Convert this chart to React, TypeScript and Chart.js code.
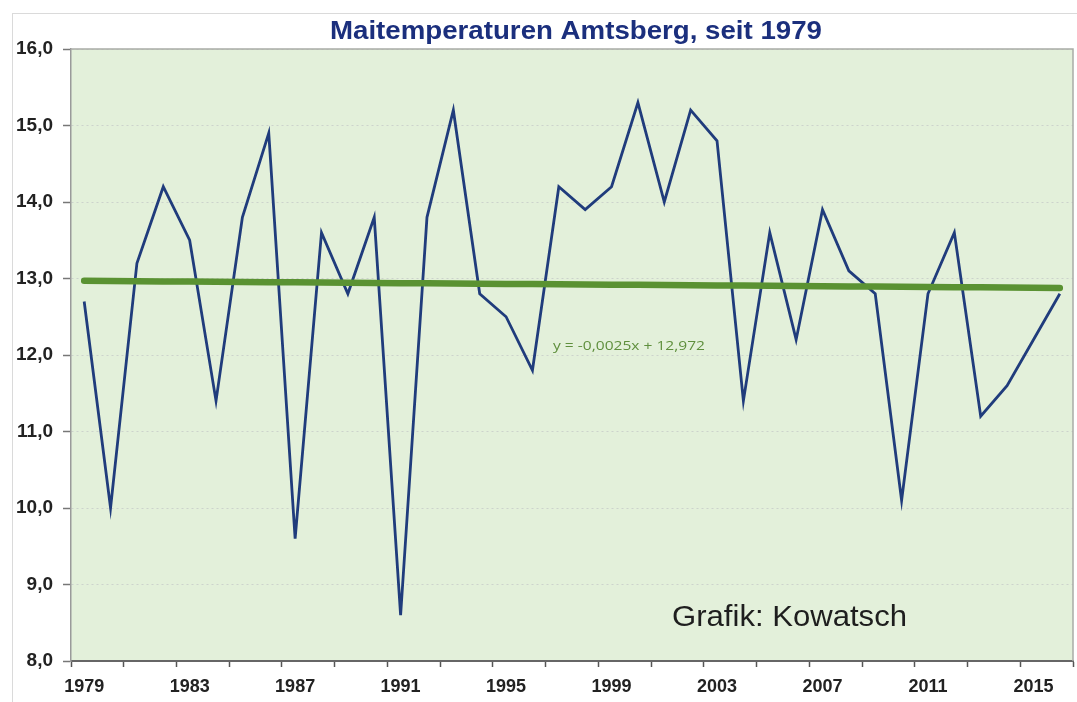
import React, { useEffect, useRef } from "react";
import { Chart, registerables } from "chart.js";

Chart.register(...registerables);

const years: string[] = [
  "1979", "1980", "1981", "1982", "1983", "1984", "1985", "1986", "1987", "1988",
  "1989", "1990", "1991", "1992", "1993", "1994", "1995", "1996", "1997", "1998",
  "1999", "2000", "2001", "2002", "2003", "2004", "2005", "2006", "2007", "2008",
  "2009", "2010", "2011", "2012", "2013", "2014", "2015", "2016",
];

const mayTemps: number[] = [
  12.7, 10.0, 13.2, 14.2, 13.5, 11.4, 13.8, 14.9, 9.6, 13.6,
  12.8, 13.8, 8.6, 13.8, 15.2, 12.8, 12.5, 11.8, 14.2, 13.9,
  14.2, 15.3, 14.0, 15.2, 14.8, 11.4, 13.6, 12.2, 13.9, 13.1,
  12.8, 10.1, 12.8, 13.6, 11.2, 11.6, 12.2, 12.8,
];

// Linear trend as given on the chart: y = -0,0025x + 12,972
const trendSlope = -0.0025;
const trendIntercept = 12.972;

const yMin = 8;
const yMax = 16;
const yStep = 1;

const titleText = "Maitemperaturen Amtsberg, seit 1979";
const equationText = "y = -0,0025x + 12,972";
const creditText = "Grafik: Kowatsch";

const FONT = '"Liberation Sans", Arial, sans-serif';

const decorPlugin = {
  id: "decor",
  beforeDraw(chart: any) {
    const { ctx, chartArea: a } = chart;
    ctx.save();
    ctx.strokeStyle = "#dadada";
    ctx.lineWidth = 1;
    ctx.strokeRect(12.5, 13.5, 1100, 800);
    ctx.fillStyle = "#e3f0da";
    ctx.fillRect(a.left, a.top, a.right - a.left, a.bottom - a.top);
    ctx.restore();
  },
  beforeDatasetsDraw(chart: any) {
    const { ctx, chartArea: a } = chart;
    ctx.save();
    ctx.strokeStyle = "#a9aca6";
    ctx.lineWidth = 1.5;
    ctx.beginPath();
    ctx.moveTo(a.left, a.top);
    ctx.lineTo(a.right, a.top);
    ctx.lineTo(a.right, a.bottom);
    ctx.stroke();
    ctx.restore();
  },
  afterDraw(chart: any) {
    const { ctx } = chart;
    ctx.save();
    ctx.font = `bold 25px ${FONT}`;
    ctx.fillStyle = "#1b2f7d";
    ctx.textBaseline = "alphabetic";
    ctx.textAlign = "center";
    const tw = ctx.measureText(titleText).width;
    ctx.translate(576, 39);
    ctx.scale(492 / tw, 1);
    ctx.fillText(titleText, 0, 0);
    ctx.restore();

    ctx.save();
    ctx.font = `13px "Open Sans", "Noto Sans", sans-serif`;
    ctx.fillStyle = "#5f8f3d";
    ctx.textBaseline = "middle";
    ctx.textAlign = "left";
    const ew = ctx.measureText(equationText).width;
    ctx.translate(553, 346);
    ctx.scale(152 / ew, 1);
    ctx.fillText(equationText, 0, 0);
    ctx.restore();

    ctx.save();
    ctx.font = `30px ${FONT}`;
    ctx.fillStyle = "#1e1e1e";
    ctx.textBaseline = "alphabetic";
    ctx.textAlign = "left";
    const cw = ctx.measureText(creditText).width;
    ctx.translate(672, 626);
    ctx.scale(235 / cw, 1);
    ctx.fillText(creditText, 0, 0);
    ctx.restore();
  },
};

export default function App() {
  const canvasRef = useRef<HTMLCanvasElement | null>(null);

  useEffect(() => {
    if (!canvasRef.current) return;
    const trend = years.map((_, i) => trendSlope * (i + 1) + trendIntercept);
    const chart = new Chart(canvasRef.current, {
      type: "line",
      data: {
        labels: years,
        datasets: [
          {
            label: "Trend",
            data: trend,
            borderColor: "#5a9232",
            borderWidth: 6.5,
            pointRadius: 0,
            tension: 0,
            borderCapStyle: "round",
          },
          {
            label: "Mai",
            data: mayTemps,
            borderColor: "#203c7c",
            borderWidth: 2.8,
            pointRadius: 0,
            tension: 0,
            borderJoinStyle: "miter",
          },
        ],
      },
      options: {
        responsive: false,
        animation: false,
        events: [],
        layout: { padding: { top: 49, right: 4, left: 0, bottom: 0 } },
        plugins: {
          legend: { display: false },
          title: { display: false },
          tooltip: { enabled: false },
        },
        scales: {
          x: {
            type: "category",
            offset: true,
            afterFit: (s: any) => {
              s.height = 41;
            },
            grid: {
              offset: true,
              drawOnChartArea: false,
              drawTicks: true,
              tickLength: 6,
              tickWidth: 1.5,
              color: (c: any) =>
                c.index === undefined || c.index % 2 === 0 ? "#555" : "transparent",
              tickColor: (c: any) =>
                c.index === undefined || c.index % 2 === 0 ? "#555" : "transparent",
              tickBorderDash: [],
            },
            border: { display: true, color: "#666", width: 2 },
            ticks: {
              autoSkip: false,
              maxRotation: 0,
              minRotation: 0,
              padding: 9,
              color: "#222",
              font: { family: FONT, size: 18, weight: "bold" },
              callback: (_v: any, i: number) => (i % 4 === 0 ? years[i] : ""),
            },
          },
          y: {
            min: yMin,
            max: yMax,
            afterFit: (s: any) => {
              s.width = 71;
            },
            grid: {
              color: "#ccd3cc",
              lineWidth: 1,
              drawTicks: true,
              tickLength: 8,
              tickColor: "#777",
              tickWidth: 1.5,
              tickBorderDash: [],
            },
            border: { display: true, color: "#9a9a9a", width: 1.5, dash: [2, 3] },
            ticks: {
              stepSize: yStep,
              padding: 10,
              color: "#222",
              font: { family: FONT, size: 19, weight: "bold" },
              callback: (v: any) => Number(v).toFixed(1).replace(".", ","),
            },
          },
        },
      },
      plugins: [decorPlugin],
    } as any);
    return () => chart.destroy();
  }, []);

  return (
    <div style={{ position: "fixed", left: 0, top: 0, width: 1077, height: 702, background: "#fff" }}>
      <canvas ref={canvasRef} width={1077} height={702} style={{ display: "block" }} />
    </div>
  );
}
